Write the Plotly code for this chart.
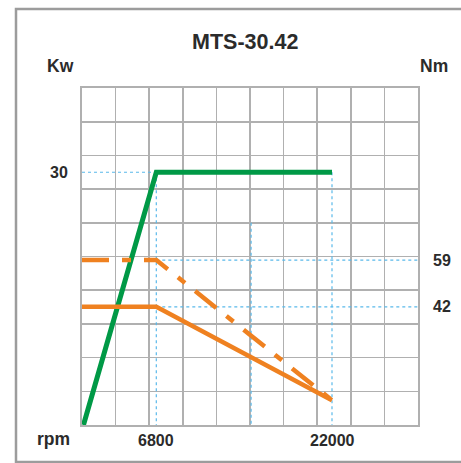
import plotly.graph_objects as go

# ---- data ----
title_text = "MTS-30.42"
rpm_ticks = [6800, 22000]
rpm_tick_labels = ["6800", "22000"]
kw_ticks = [30]
nm_ticks = [59, 42]

power_rpm = [500, 6800, 22000]
power_kw = [0, 30, 30]

torque_rpm = [372, 6800, 22000]
torque_cont_nm = [42, 42, 8]
torque_peak_nm = [59, 59, 8]

extra_guide_rpm = 15000
extra_guide_kw = 24

# ---- layout constants ----
W, H = 461, 463
L, R, T, B = 82, 43, 88, 38
PW, PH = W - L - R, H - T - B
X_RANGE = [372, 29440]
KW_RANGE = [0, 40]
NM_RANGE = [-1, 121.6]

def px(xp):
    return (xp - L) / PW

def py(yp):
    return (H - B - yp) / PH

GREEN = "#009946"
ORANGE = "#ef8120"
GUIDE = "#5ab9ea"
GRID = "#b0b0b0"
TXT = "#2b2b2b"
FONT = "Liberation Sans"

fig = go.Figure()

# guides
guide_style = dict(color=GUIDE, width=1.2, dash="dot")
fig.add_trace(go.Scatter(x=[X_RANGE[0], rpm_ticks[0]], y=[kw_ticks[0], kw_ticks[0]],
                         mode="lines", line=guide_style, hoverinfo="skip"))
for r in rpm_ticks:
    fig.add_trace(go.Scatter(x=[r, r], y=[kw_ticks[0], KW_RANGE[0]], mode="lines",
                             line=guide_style, hoverinfo="skip"))
fig.add_trace(go.Scatter(x=[extra_guide_rpm, extra_guide_rpm], y=[extra_guide_kw, KW_RANGE[0]],
                         mode="lines", line=guide_style, hoverinfo="skip"))
for n in nm_ticks:
    fig.add_trace(go.Scatter(x=[rpm_ticks[0], X_RANGE[1]], y=[n, n], yaxis="y2", mode="lines",
                             line=guide_style, hoverinfo="skip"))

# curves
fig.add_trace(go.Scatter(x=torque_rpm, y=torque_peak_nm, yaxis="y2", mode="lines",
                         line=dict(color=ORANGE, width=4.5, dash="27px,13px,9px,13px"),
                         name="Peak torque"))
fig.add_trace(go.Scatter(x=torque_rpm, y=torque_cont_nm, yaxis="y2", mode="lines",
                         line=dict(color=ORANGE, width=4.5), name="Torque"))
fig.add_trace(go.Scatter(x=power_rpm, y=power_kw, mode="lines",
                         line=dict(color=GREEN, width=5), name="Power"))

fig.update_layout(
    width=W, height=H, autosize=False,
    margin=dict(l=L, r=R, t=T, b=B, pad=0),
    paper_bgcolor="white", plot_bgcolor="white",
    showlegend=False,
    hovermode=False,
    font=dict(family=FONT, color=TXT),
    xaxis=dict(range=X_RANGE, tickmode="linear", tick0=X_RANGE[0],
               dtick=(X_RANGE[1] - X_RANGE[0]) / 10, showgrid=True, gridcolor=GRID,
               gridwidth=1.6, showticklabels=False, ticks="", zeroline=False,
               showline=True, mirror=True, linecolor=GRID, linewidth=1.6, fixedrange=True),
    yaxis=dict(range=KW_RANGE, tickmode="linear", tick0=0, dtick=4, showgrid=True,
               gridcolor=GRID, gridwidth=1.6, showticklabels=False, ticks="",
               zeroline=False, showline=True, mirror=True, linecolor=GRID, linewidth=1.6,
               fixedrange=True),
    yaxis2=dict(range=NM_RANGE, overlaying="y", side="right", showgrid=False,
                showticklabels=False, ticks="", zeroline=False, fixedrange=True),
)

# outer frame
fig.add_shape(type="rect", xref="paper", yref="paper",
              x0=px(16), x1=px(480), y0=py(9), y1=py(462),
              line=dict(color="#9c9c9c", width=2.5), layer="below")

def ann(text, x, y, size, xref="paper", yref="paper", xanchor="center", yanchor="middle"):
    fig.add_annotation(text="<b>" + text + "</b>", x=x, y=y, xref=xref, yref=yref,
                       xanchor=xanchor, yanchor=yanchor, showarrow=False,
                       font=dict(size=size, family=FONT, color=TXT))

ann(title_text, px(245), py(42), 21.5)
ann("Kw", px(60.5), py(66), 17.5)
ann("Nm", px(434), py(66), 17.5)
ann("rpm", px(53), py(439), 17.5)
for r, lab in zip(rpm_ticks, rpm_tick_labels):
    ann(lab, r, py(440), 16, xref="x")
for k in kw_ticks:
    ann(str(k), px(69.5), k, 16, yref="y", xanchor="right")
for n in nm_ticks:
    ann(str(n), px(431), n, 16, yref="y2", xanchor="left")

fig.write_html("out.html", config={"displayModeBar": False, "staticPlot": True},
               post_script="document.body.style.margin='0';document.body.style.overflow='hidden';")
